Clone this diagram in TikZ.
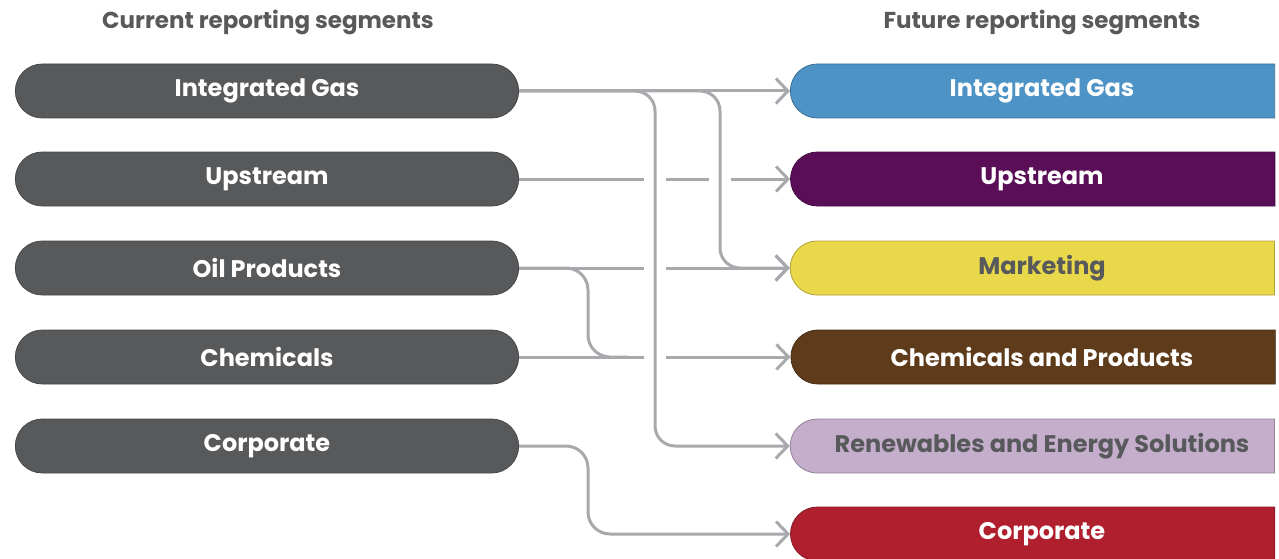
\documentclass[tikz,border=0pt]{standalone}
\usepackage{fontspec}
\setmainfont{Poppins}
\usetikzlibrary{arrows.meta,positioning,shapes.misc,calc}
\definecolor{segmentgray}{HTML}{58595B}
\definecolor{linkgray}{HTML}{A7A9AC}
\definecolor{gasblue}{HTML}{4D93C6}
\definecolor{upstreampurple}{HTML}{5A0E57}
\definecolor{marketyellow}{HTML}{E8D84A}
\definecolor{chembrown}{HTML}{5E3C1B}
\definecolor{renewlilac}{HTML}{C4AECC}
\definecolor{corpred}{HTML}{B01F2D}

\tikzset{
  oldseg/.style={rounded rectangle, fill=segmentgray, draw=segmentgray!80!black, line width=.8pt,
    minimum width=510pt, minimum height=54pt, text=white,
    font=\fontsize{24}{28}\selectfont\bfseries},
  newseg/.style={rounded rectangle, rounded rectangle right arc=none,
    fill=#1, draw=#1!75!black, line width=.8pt,
    minimum width=491pt, minimum height=54pt, text=white,
    font=\fontsize{24}{28}\selectfont\bfseries, execute at begin node=\hspace*{16pt}},
  heading/.style={text=segmentgray, font=\fontsize{23}{27}\selectfont\bfseries},
  link/.style={draw=linkgray, line width=3pt},
  linkto/.style={link, -{Straight Barb[length=12pt,width=25pt]}},
}

\begin{document}
\begin{tikzpicture}[x=1pt,y=-1pt]
  \useasboundingbox (0,0) rectangle (1279,559);
  % headings
  \node[heading] (hcur) at (268,22) {Current reporting segments};
  \node[heading] (hfut) at (1042,22) {Future reporting segments};

  % current segments
  \node[oldseg] (l1) at (267,91)  {Integrated Gas};
  \node[oldseg] (l2) at (267,179) {Upstream};
  \node[oldseg] (l3) at (267,268) {Oil Products};
  \node[oldseg] (l4) at (267,357) {Chemicals};
  \node[oldseg] (l5) at (267,446) {Corporate};

  % future segments
  \node[newseg=gasblue]        (f1) at (1034,91)  {Integrated Gas};
  \node[newseg=upstreampurple] (f2) at (1034,179) {Upstream};
  \node[newseg=marketyellow, text=segmentgray] (f3) at (1034,268) {Marketing};
  \node[newseg=chembrown]      (f4) at (1034,357) {Chemicals and Products};
  \node[newseg=renewlilac, text=segmentgray]   (f5) at (1034,446) {Renewables and Energy Solutions};
  \node[newseg=corpred]        (f6) at (1034,534) {Corporate};

  % vertical buses
  \coordinate (busO) at (588,0);
  \coordinate (busR) at (655,0);
  \coordinate (busM) at (720,0);

  % straight links, broken where a bus crosses
  \draw[linkto] (l1.east) -- (f1.west);
  \draw[link] (l2.east) -- ($(busR |- l2)-(11,0)$);
  \draw[link] ($(busR |- l2)+(11,0)$) -- ($(busM |- l2)-(11,0)$);
  \draw[linkto] ($(busM |- l2)+(11,0)$) -- (f2.west);
  \draw[link] (l3.east) -- ($(busR |- l3)-(11,0)$);
  \draw[linkto] ($(busR |- l3)+(11,0)$) -- (f3.west);
  \draw[link] (l4.east) -- ($(busR |- l4)-(11,0)$);
  \draw[linkto] ($(busR |- l4)+(11,0)$) -- (f4.west);

  % branches
  \draw[linkto, rounded corners=20pt] (l1.east) -| (busR |- f5) -- (f5.west);
  \draw[linkto, rounded corners=20pt] (l1.east) -| (busM |- f3) -- (f3.west);
  \draw[link, rounded corners=22pt] (l3.east) -| (busO |- l4) -- ++(40,0);
  \draw[linkto, rounded corners=22pt] (l5.east) -| (busO |- f6) -- (f6.west);
\end{tikzpicture}
\end{document}
